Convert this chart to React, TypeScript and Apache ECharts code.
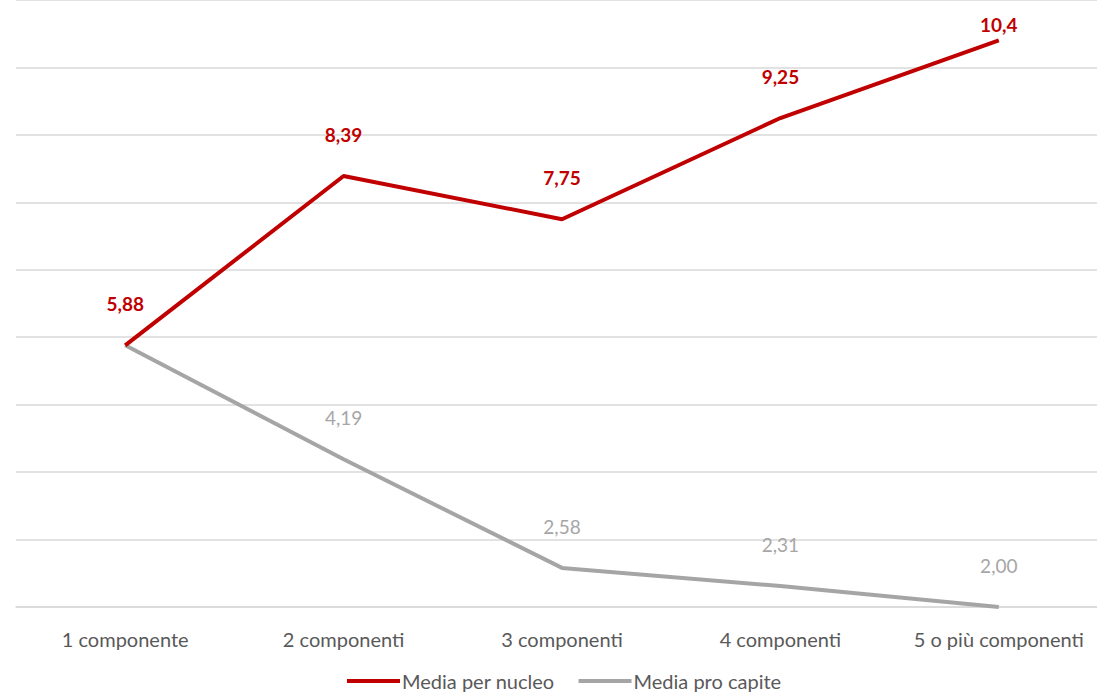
import React, { useEffect, useRef } from "react";
import * as echarts from "echarts";

const categories = ["1 componente", "2 componenti", "3 componenti", "4 componenti", "5 o più componenti"];
const mediaPerNucleo = [5.88, 8.39, 7.75, 9.25, 10.4];
const mediaProCapite = [5.88, 4.19, 2.58, 2.31, 2.0];
const nucleoLabels = ["5,88", "8,39", "7,75", "9,25", "10,4"];
const capiteLabels = ["", "4,19", "2,58", "2,31", "2,00"];

const FONT = "Lato, 'Open Sans', sans-serif";
const RED = "#C00000";
const GRAY = "#A5A5A5";

export default function App() {
  const ref = useRef<HTMLDivElement>(null);
  useEffect(() => {
    if (!ref.current) return;
    const chart = echarts.init(ref.current, undefined, { renderer: "svg" });
    const nucleoData = mediaPerNucleo.map((v, i) =>
      i === mediaPerNucleo.length - 1 ? { value: v, label: { distance: 6 } } : v
    );
    chart.setOption({
      animation: false,
      backgroundColor: "#ffffff",
      textStyle: { fontFamily: FONT },
      grid: { left: 16, right: 0, top: 0, bottom: 86, containLabel: false },
      legend: {
        top: 666,
        left: 342,
        itemWidth: 53,
        itemHeight: 4,
        itemGap: 24,
        icon: "rect",
        textStyle: { fontSize: 20, color: "#595959", fontFamily: FONT, padding: [0, 0, 0, -3] },
        data: [
          { name: "Media per nucleo", itemStyle: { color: RED } },
          { name: "Media pro capite", itemStyle: { color: GRAY } },
        ],
      },
      xAxis: {
        type: "category",
        data: categories,
        boundaryGap: true,
        axisLine: { show: true, lineStyle: { color: "#D9D9D9", width: 1.5 } },
        axisTick: { show: false },
        axisLabel: { color: "#595959", fontSize: 20, margin: 22, interval: 0, fontFamily: FONT },
      },
      yAxis: {
        type: "value",
        min: 2,
        max: 11,
        interval: 1,
        axisLabel: { show: false },
        axisLine: { show: false },
        axisTick: { show: false },
        splitLine: { lineStyle: { color: "#D9D9D9", width: 1.5 } },
      },
      series: [
        {
          name: "Media per nucleo",
          type: "line",
          data: nucleoData,
          symbol: "circle",
          symbolSize: 0.1,
          showSymbol: true,
          itemStyle: { color: RED },
          color: RED,
          lineStyle: { color: RED, width: 4 },
          z: 3,
          label: {
            show: true,
            position: "top",
            distance: 32,
            color: RED,
            fontWeight: "bold",
            fontSize: 19,
            fontFamily: FONT,
            formatter: (p: any) => nucleoLabels[p.dataIndex],
          },
        },
        {
          name: "Media pro capite",
          type: "line",
          data: mediaProCapite,
          symbol: "circle",
          symbolSize: 0.1,
          showSymbol: true,
          itemStyle: { color: GRAY },
          color: GRAY,
          lineStyle: { color: GRAY, width: 4 },
          z: 2,
          label: {
            show: true,
            position: "top",
            distance: 32,
            color: "#A6A6A6",
            fontSize: 19,
            fontFamily: FONT,
            formatter: (p: any) => capiteLabels[p.dataIndex],
          },
        },
      ],
    });
    return () => chart.dispose();
  }, []);
  return (
    <div
      style={{ position: "fixed", left: 0, top: 0, width: 1097, height: 693, overflow: "hidden", background: "#fff" }}
    >
      <div ref={ref} style={{ width: 1108, height: 693 }} />
    </div>
  );
}
